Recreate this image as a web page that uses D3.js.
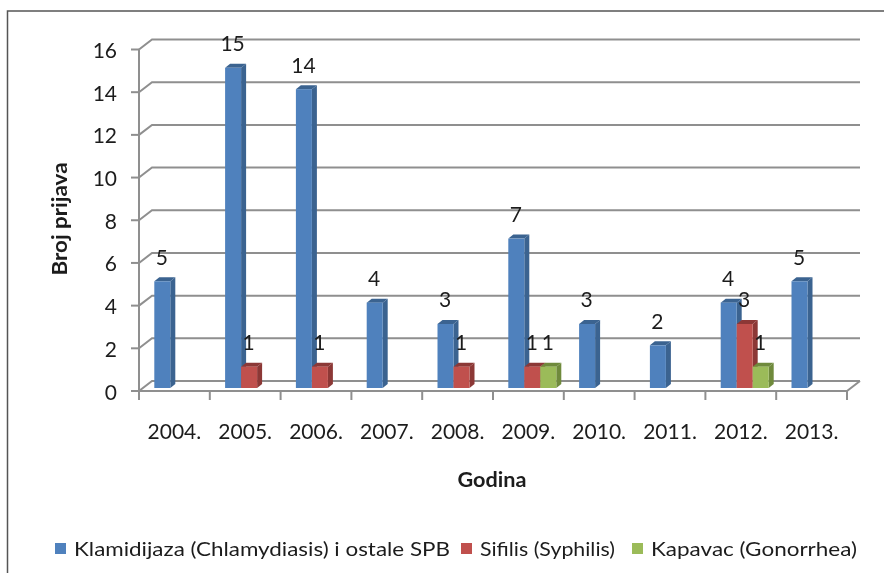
<!DOCTYPE html>
<html><head><meta charset="utf-8">
<script src="https://cdn.jsdelivr.net/npm/d3@7/dist/d3.min.js"></script>
<style>html,body{margin:0;padding:0;background:#fff}svg{display:block;filter:blur(0.4px)}text{font-family:Lato,"Open Sans",sans-serif;fill:#1c1c1c}</style>
</head><body><svg id="c" width="884" height="573"></svg>
<script>
const years = ["2004.","2005.","2006.","2007.","2008.","2009.","2010.","2011.","2012.","2013."];
const chlamydia = [5,15,14,4,3,7,3,2,4,5];
const syphilis = [0,1,1,0,1,1,0,0,3,0];
const gonorrhea = [0,0,0,0,0,1,0,0,1,0];
const seriesNames = ["Klamidijaza (Chlamydiasis) i ostale SPB","Sifilis (Syphilis)","Kapavac (Gonorrhea)"];
const yTicks = [0,2,4,6,8,10,12,14,16];
const faces = [["#4F81BD","#5b8cc6","#3b6390"],["#C0504D","#c95f5c","#8c3836"],["#9BBB59","#a8c468","#6f8a3c"]];
const allSeries = [chlamydia,syphilis,gonorrhea];

const svg = d3.select("#c");
const x = d3.scaleBand().domain(years).range([139,847]);
const y = d3.scaleLinear().domain([0,16]).range([391,49.5]);
const back = {dx:13,dy:-10}, grid = "#8f8f8f";

// frame
svg.append("path").attr("d","M7.5,573V11H884").attr("fill","none").attr("stroke","#555").attr("stroke-width",1.5);

// gridlines with side wall
yTicks.forEach(t=>{
  const yy=y(t);
  svg.append("path").attr("d",`M${139},${yy}L${139+back.dx},${yy+back.dy}H860`).attr("fill","none").attr("stroke",grid).attr("stroke-width",2);
  svg.append("line").attr("x1",131).attr("x2",139).attr("y1",yy).attr("y2",yy).attr("stroke",grid).attr("stroke-width",2);
  svg.append("text").attr("x",117).attr("y",yy).attr("text-anchor","end").attr("dominant-baseline","central").attr("font-size",21).text(t);
});
// axes and floor
svg.append("line").attr("x1",139).attr("x2",139).attr("y1",y(16)).attr("y2",y(0)+9).attr("stroke",grid).attr("stroke-width",2);
svg.append("path").attr("d",`M139,${y(0)}H847L860,${y(0)+back.dy}`).attr("fill","none").attr("stroke",grid).attr("stroke-width",2);
d3.range(11).forEach(i=>{
  const tx=139+i*x.bandwidth();
  svg.append("line").attr("x1",tx).attr("x2",tx).attr("y1",y(0)).attr("y2",y(0)+9).attr("stroke",grid).attr("stroke-width",2);
});
years.forEach(c=>svg.append("text").attr("x",x(c)+x.bandwidth()/2).attr("y",430).attr("text-anchor","middle").attr("dominant-baseline","central").attr("font-size",21).text(c));

// bars
const bw=16, ddx=5, ddy=4, lift=3, inset=15.3;
allSeries.forEach((vals,s)=>{
  vals.forEach((v,i)=>{
    if(!v) return;
    const x0=x(years[i])+inset+s*bw, x1=x0+bw, yt=y(v)-lift, yb=y(0)-lift;
    const f=faces[s];
    const g=svg.append("g");
    g.append("path").attr("d",`M${x1},${yt}L${x1+ddx},${yt-ddy}V${yb-ddy}L${x1},${yb}Z`).attr("fill",f[2]);
    g.append("path").attr("d",`M${x0},${yt}L${x0+ddx},${yt-ddy}H${x1+ddx}L${x1},${yt}Z`).attr("fill",f[2]);
    g.append("rect").attr("x",x0).attr("y",yt).attr("width",bw).attr("height",yb-yt).attr("fill",f[0]);
  });
});
// value labels
allSeries.forEach((vals,s)=>{
  vals.forEach((v,i)=>{
    if(!v) return;
    const cx=x(years[i])+inset+s*bw+bw/2-0.5;
    svg.append("text").attr("x",cx).attr("y",y(v)-lift-ddy-21).attr("text-anchor","middle").attr("dominant-baseline","central").attr("font-size",21).text(v);
  });
});
// axis titles
svg.append("text").attr("transform","translate(58,219) rotate(-90)").attr("text-anchor","middle").attr("dominant-baseline","central").attr("font-size",21).attr("font-weight",700).attr("textLength",113).attr("lengthAdjust","spacingAndGlyphs").text("Broj prijava");
svg.append("text").attr("x",492).attr("y",478).attr("text-anchor","middle").attr("dominant-baseline","central").attr("font-size",21).attr("font-weight",700).attr("textLength",69).attr("lengthAdjust","spacingAndGlyphs").text("Godina");
// legend
const legendX=[55,461,632], legendW=[376,135,206];
seriesNames.forEach((n,i)=>{
  svg.append("rect").attr("x",legendX[i]).attr("y",543).attr("width",11).attr("height",11).attr("fill",faces[i][0]);
  svg.append("text").attr("x",legendX[i]+19).attr("y",548).attr("dominant-baseline","central").attr("font-size",20).attr("textLength",legendW[i]).attr("lengthAdjust","spacingAndGlyphs").text(n);
});
</script></body></html>
